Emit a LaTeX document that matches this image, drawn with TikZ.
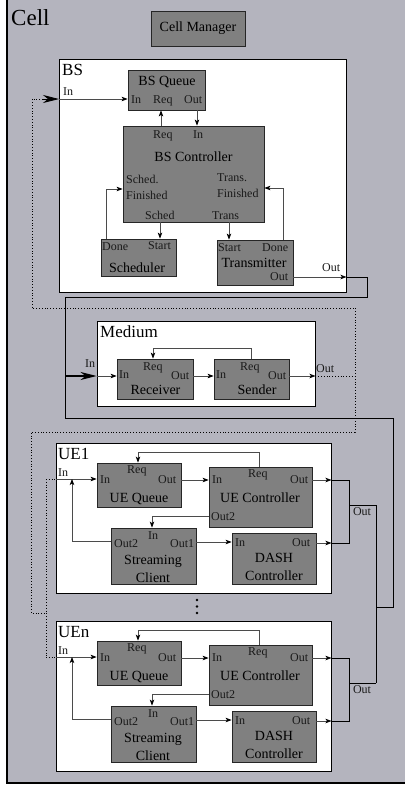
\documentclass[tikz,border=0pt]{standalone}
\usepackage{fontspec}
\setmainfont{Liberation Serif}
\newfontfamily\serf{Liberation Serif}
\usetikzlibrary{arrows.meta,fit}
\definecolor{cellgray}{RGB}{180,180,190}
\definecolor{boxgray}{RGB}{128,128,128}
\definecolor{wirec}{RGB}{75,75,75}
\newcommand\uegroup[3]{%
 \node[grp, fit={(56,443+#2)(331,593+#2)}] (#1) {};
 \node[glab, anchor=base west] (#1-lab) at (58,459+#2) {#3};
 \node[port, anchor=base west] (#1-inlab) at (58,476+#2) {In};
 % UE Queue
 \node[blk, fit={(97,463+#2)(181,507+#2)}] (#1-q) {};
 \node[port, anchor=base west] (#1-q-req) at (127,473+#2) {Req};
 \node[port, anchor=base west] (#1-q-in) at (100,483+#2) {In};
 \node[port, anchor=base west] (#1-q-out) at (158,483+#2) {Out};
 \node[ttl] (#1-q-t) at (139,499+#2) {UE Queue};
 % UE Controller
 \node[blk, fit={(209,467+#2)(312,527+#2)}] (#1-c) {};
 \node[port, anchor=base west] (#1-c-in) at (212,483+#2) {In};
 \node[port, anchor=base west] (#1-c-req) at (248,477+#2) {Req};
 \node[port, anchor=base west] (#1-c-out) at (290,483+#2) {Out};
 \node[ttl] (#1-c-t) at (260,498+#2) {UE Controller};
 \node[port, anchor=base west] (#1-c-out2) at (211,520+#2) {Out2};
 % Streaming Client
 \node[blk, fit={(111,528+#2)(196,584+#2)}] (#1-s) {};
 \node[port, anchor=base west] (#1-s-in) at (148,539+#2) {In};
 \node[port, anchor=base west] (#1-s-out2) at (114,547+#2) {Out2};
 \node[port, anchor=base west] (#1-s-out1) at (170,547+#2) {Out1};
 \node[ttl] (#1-s-t1) at (153,561+#2) {Streaming};
 \node[ttl] (#1-s-t2) at (153,578+#2) {Client};
 % DASH Controller
 \node[blk, fit={(232,533+#2)(316,584+#2)}] (#1-d) {};
 \node[port, anchor=base west] (#1-d-in) at (235,546+#2) {In};
 \node[port, anchor=base west] (#1-d-out) at (292,546+#2) {Out};
 \node[ttl] (#1-d-t1) at (274,558+#2) {DASH};
 \node[ttl] (#1-d-t2) at (274,576+#2) {Controller};
 % connectors
 \coordinate (#1-in) at (56,479+#2);
 \draw[arr] (#1-in) -- (#1-q.west |- #1-in);
 \coordinate (#1-qo) at (181,480+#2);
 \draw[arr] (#1-qo) -- (#1-c.west |- #1-qo);
 \coordinate (#1-cr) at (259,467+#2);
 \coordinate (#1-crb) at (138,452+#2);
 \draw[arr] (#1-cr) -- (#1-cr |- #1-crb) -- (#1-crb) -- (#1-q.north -| #1-crb);
 \coordinate (#1-co2) at (209,516+#2);
 \coordinate (#1-co2b) at (152,516+#2);
 \draw[arr] (#1-co2) -- (#1-co2b) -- (#1-s.north -| #1-co2b);
 \coordinate (#1-so2) at (111,541+#2);
 \coordinate (#1-so2b) at (72,541+#2);
 \draw[arr] (#1-so2) -- (#1-so2b) -- (#1-so2b |- #1-in);
 \coordinate (#1-so1) at (196,542+#2);
 \draw[arr] (#1-so1) -- (#1-d.west |- #1-so1);
 \coordinate (#1-co) at (312,480+#2);
 \draw[arr] (#1-co) -- (#1.east |- #1-co);
 \coordinate (#1-do) at (316,543+#2);
 \draw[arr] (#1-do) -- (#1.east |- #1-do);
 \coordinate (#1-j1) at (349,480+#2);
 \coordinate (#1-j2) at (349,543+#2);
 \coordinate (#1-jm) at (349,505+#2);
 \coordinate (#1-out) at (376,505+#2);
 \draw[bus] (#1.east |- #1-co) -- (#1-j1) -- (#1-j2) -- (#1.east |- #1-do);
 \draw[bus] (#1-jm) -- (#1-out);
 \node[port] (#1-outlab) at (362,512+#2) {Out};
}
\begin{document}
\begin{tikzpicture}[x=1pt,y=-1pt,
 blk/.style={draw=black!85, fill=boxgray, line width=0.8pt, inner sep=0pt},
 grp/.style={draw=black, fill=white, line width=0.9pt, inner sep=0pt},
 port/.style={font=\serf\fontsize{12}{12}\selectfont, inner sep=0pt, text=black!90},
 ttl/.style={font=\serf\fontsize{14}{14}\selectfont, inner sep=0pt},
 glab/.style={font=\serf\fontsize{17}{17}\selectfont, inner sep=0pt},
 wire/.style={draw=wirec, line width=0.8pt},
 arr/.style={wire, -{Stealth[length=6pt,width=4.5pt,inset=1.5pt,color=black]}},
 bus/.style={draw=black, line width=0.9pt},
 bigarr/.style={-{Stealth[length=16pt,width=8pt,inset=5pt,color=black]}},
 dotline/.style={draw=black, line width=0.8pt, dotted}]
\useasboundingbox (0,0) rectangle (405,788);
% Cell
\node[fill=cellgray, inner sep=0pt, fit={(7,0)(405,783)}] (cell) {};
\draw[line width=1.6pt] (cell.north west) -- (cell.south west) -- (cell.south east);
\node[font=\serf\fontsize{23}{23}\selectfont, inner sep=0pt, anchor=base west] (celllab) at (11,25) {Cell};
\node[blk, fit={(151,11)(245,46)}] (cm) {};
\node[ttl] (cmt) at (cm.center) {Cell Manager};

% BS
\node[grp, fit={(59,59)(346,292)}] (bs) {};
\node[glab, anchor=base west] (bslab) at (62,75) {BS};
\node[port, anchor=base west] (bsinlab) at (63,95) {In};
\node[blk, fit={(128,70)(205,110)}] (bsq) {};
\node[ttl] (bsqt) at (167,82) {BS Queue};
\node[port, anchor=base west] (bsq-in) at (131,103) {In};
\node[port, anchor=base west] (bsq-req) at (153,103) {Req};
\node[port, anchor=base west] (bsq-out) at (184,103) {Out};
\node[blk, fit={(123,126)(264,222)}] (bsc) {};
\node[ttl] (bsct) at (193.5,157) {BS Controller};
\node[port, anchor=base west] (bsc-req) at (153,138) {Req};
\node[port, anchor=base west] (bsc-in) at (193,138) {In};
\node[port, anchor=base west] (bsc-sf1) at (126,183) {Sched.};
\node[port, anchor=base west] (bsc-sf2) at (126,199) {Finished};
\node[port, anchor=base west] (bsc-tf1) at (217,181) {Trans.};
\node[port, anchor=base west] (bsc-tf2) at (217,197) {Finished};
\node[port, anchor=base west] (bsc-s) at (145,219) {Sched};
\node[port, anchor=base west] (bsc-t) at (212,219) {Trans};
\node[blk, fit={(101,239)(176,276)}] (sch) {};
\node[port, anchor=base west] (sch-d) at (102,250) {Done};
\node[port, anchor=base west] (sch-s) at (148,249) {Start};
\node[ttl] (scht) at (137,268) {Scheduler};
\node[blk, fit={(217,240)(293,285)}] (tx) {};
\node[port, anchor=base west] (tx-s) at (218,251) {Start};
\node[port, anchor=base west] (tx-d) at (262,251) {Done};
\node[ttl] (txt) at (254,263) {Transmitter};
\node[port, anchor=base west] (tx-o) at (270,280) {Out};

\coordinate (bsin) at (59,99);
\draw[arr] (bsin) -- (bsq.west |- bsin);
\coordinate (bsreq) at (161,126);
\draw[arr] (bsreq) -- (bsq.south -| bsreq);
\coordinate (bsqo) at (197,110);
\draw[arr] (bsqo) -- (bsc.north -| bsqo);
\coordinate (schx) at (160,222);
\draw[arr] (schx) -- (sch.north -| schx);
\coordinate (trnx) at (229,222);
\draw[arr] (trnx) -- (tx.north -| trnx);
\coordinate (sd) at (106,239);
\coordinate (sdb) at (106,189);
\draw[arr] (sd) -- (sdb) -- (bsc.west |- sdb);
\coordinate (td) at (283,240);
\coordinate (tdb) at (283,188);
\draw[arr] (td) -- (tdb) -- (bsc.east |- tdb);
\coordinate (txo) at (293,277);
\draw[arr] (txo) -- (bs.east |- txo);
\node[port, anchor=base west] (bsoutlab) at (322,271) {Out};

% Medium
\node[grp, fit={(97,321)(315,406)}] (med) {};
\node[glab, anchor=base west] (medlab) at (100,337) {Medium};
\node[blk, fit={(117,359)(193,399)}] (rcv) {};
\node[port, anchor=base west] (rcv-in) at (119,378) {In};
\node[port, anchor=base west] (rcv-req) at (143,370) {Req};
\node[port, anchor=base west] (rcv-out) at (171,379) {Out};
\node[ttl] (rcvt) at (155.5,390) {Receiver};
\node[blk, fit={(214,359)(289,399)}] (snd) {};
\node[port, anchor=base west] (snd-in) at (216,378) {In};
\node[port, anchor=base west] (snd-req) at (240,370) {Req};
\node[port, anchor=base west] (snd-out) at (268,379) {Out};
\node[ttl] (sndt) at (257,390) {Sender};
\node[port, anchor=base west] (medinlab) at (85,367) {In};
\node[port, anchor=base west] (medoutlab) at (316,372) {Out};

\coordinate (sr) at (251,359);
\coordinate (rr) at (153,348);
\draw[arr] (sr) -- (sr |- rr) -- (rr) -- (rcv.north -| rr);
\coordinate (ro) at (193,376);
\draw[arr] (ro) -- (snd.west |- ro);
\coordinate (so) at (289,376);
\draw[arr] (so) -- (med.east |- so);
\coordinate (mi) at (65,376);
\draw[bus, line width=1.8pt, bigarr] (mi) -- (med.west |- mi);
\draw[arr] (med.west |- mi) -- (rcv.west |- mi);

% UEs
\uegroup{ueone}{0}{UE1}
\uegroup{uen}{178}{UEn}
\fill (197,600) circle (1.3) (197,606.5) circle (1.3) (197,613) circle (1.3);

% solid bus: BS out and UE outs to Medium in
\draw[bus] (bs.east |- txo) -- (367,277) -- (367,297) -- (65,297) -- (65,418) -- (393,418) -- (393,607) -- (376,607);
\draw[bus] (ueone-out) -- (uen-out);

% dotted: Medium out to BS in and UE ins
\coordinate (bsdot) at (43,99);
\draw[dotline] (med.east |- so) -- (355,376) -- (355,308) -- (32,308) -- (32,99) -- (bsdot);
\draw[bus, bigarr] (bsdot) -- (bsin);
\draw[dotline] (355,376) -- (355,432) -- (31,432) -- (31,613) -- (46,613);
\draw[dotline] (46,479) -- (46,657);
\draw[dotline] (46,479) -- (ueone-in);
\draw[dotline] (46,657) -- (uen-in);
\end{tikzpicture}
\end{document}
